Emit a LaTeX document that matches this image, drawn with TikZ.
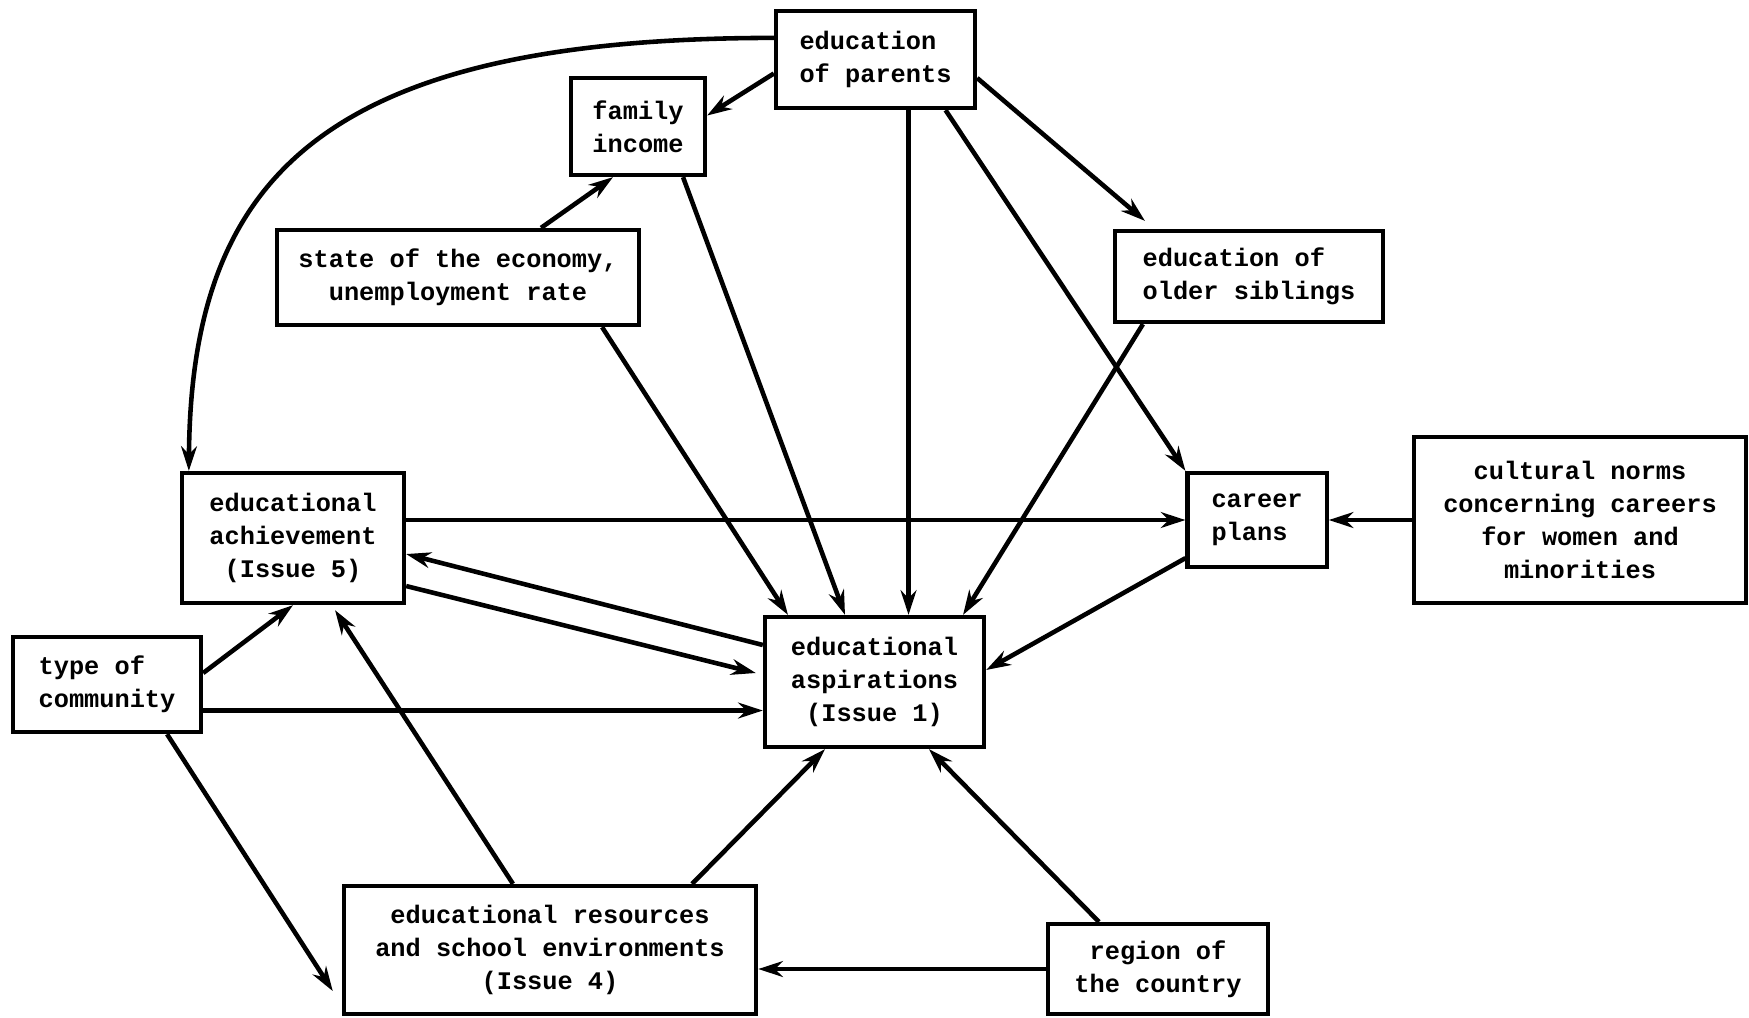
\documentclass[tikz,border=0pt]{standalone}
\usepackage{fontspec}
\setmonofont{Liberation Mono}
\usetikzlibrary{positioning, arrows.meta}

\begin{document}
\begin{tikzpicture}[x=0.01cm, y=-0.01cm, >={Stealth[length=7pt,width=4.5pt]}]
    \tikzset{box/.style={rectangle,draw=black,line width=1.2pt,align=center,inner sep=2pt,font=\ttfamily\bfseries\fontsize{7.2}{9.4}\selectfont}}
    \tikzset{link/.style={->,line width=1.3pt}}
    \useasboundingbox (0,0) rectangle (1749,1017);
    \begin{scope}
    \node[box, align=left, minimum width=1.99cm, minimum height=0.97cm] at (875.5,59.5) (par) {education\\of parents};
    \node[box, align=left, minimum width=1.34cm, minimum height=0.97cm] at (638,126.5) (inc) {family\\income};
    \node[box, minimum width=3.62cm, minimum height=0.95cm] at (458,277.5) (eco) {state of the economy,\\unemployment rate};
    \node[box, align=left, minimum width=2.68cm, minimum height=0.91cm] at (1249,276.5) (sib) {education of\\older siblings};
    \node[box, minimum width=3.32cm, minimum height=1.66cm] at (1580,520) (norms) {cultural norms\\concerning careers\\for women and\\minorities};
    \node[box, align=left, minimum width=1.39cm, minimum height=0.94cm, left=0.83cm of norms] (car) {career\\plans};
    \node[box, minimum width=2.22cm, minimum height=1.30cm] at (293,538) (ach) {educational\\achievement\\(Issue 5)};
    \node[box, align=left, minimum width=1.88cm, minimum height=0.95cm] at (107,684.5) (com) {type of\\community};
    \node[box, minimum width=2.19cm, minimum height=1.30cm] at (874.5,682) (asp) {educational\\aspirations\\(Issue 1)};
    \node[box, minimum width=4.12cm, minimum height=1.28cm] at (550,950) (res) {educational resources\\and school environments\\(Issue 4)};
    \node[box, minimum width=2.20cm, minimum height=0.90cm] at (1158,969) (reg) {region of\\the country};
    \end{scope}

    \draw[link] (par.168) .. controls (320,38) and (191,180) .. ([xshift=0.09cm]ach.north west);
    \draw[link] ([yshift=-0.14cm]par.west) -- ([yshift=0.11cm]inc.east);
    \draw[link] ([xshift=0.83cm]eco.north) -- ([xshift=-0.25cm]inc.south);
    \draw[link] ([xshift=0.45cm]inc.south) -- ([xshift=-0.295cm]asp.north);
    \draw[link] ([xshift=1.44cm]eco.south) -- ([xshift=-0.865cm]asp.north);
    \draw[link] ([xshift=0.33cm]par.south) -- ([xshift=0.33cm]par.south |- asp.north);
    \draw[link] ([yshift=-0.185cm]par.east) -- ([xshift=-1.04cm, yshift=0.08cm]sib.north);
    \draw[link] ([xshift=0.7cm]par.south) -- (car.north west);
    \draw[link] ([xshift=-1.06cm]sib.south) -- ([xshift=0.885cm]asp.north);
    \draw[link] (ach.east |- car.west) -- (car.west);
    \draw[link] (norms.west |- car.east) -- (car.east);
    \draw[link] ([yshift=0.11cm]car.south west) -- ([yshift=0.12cm]asp.east);
    \draw[link] ([yshift=0.37cm]asp.west) -- ([yshift=-0.16cm]ach.east);
    \draw[link] ([yshift=-0.48cm]ach.east) -- ([xshift=-0.07cm, yshift=0.09cm]asp.west);
    \draw[link] ([yshift=0.115cm]com.east) -- (ach.south);
    \draw[link] ([yshift=-0.26cm]com.east) -- ([yshift=-0.26cm]com.east -| asp.west);
    \draw[link] ([xshift=0.6cm]com.south) -- ([xshift=-0.09cm, yshift=-0.41cm]res.west);
    \draw[link] ([xshift=-0.37cm]res.north) -- ([xshift=0.42cm, yshift=-0.05cm]ach.south);
    \draw[link] ([xshift=1.42cm]res.north) -- ([xshift=-0.495cm]asp.south);
    \draw[link] ([xshift=-0.59cm]reg.north) -- ([xshift=0.545cm]asp.south);
    \draw[link] (reg.west) -- (reg.west -| res.east);
\end{tikzpicture}
\end{document}
